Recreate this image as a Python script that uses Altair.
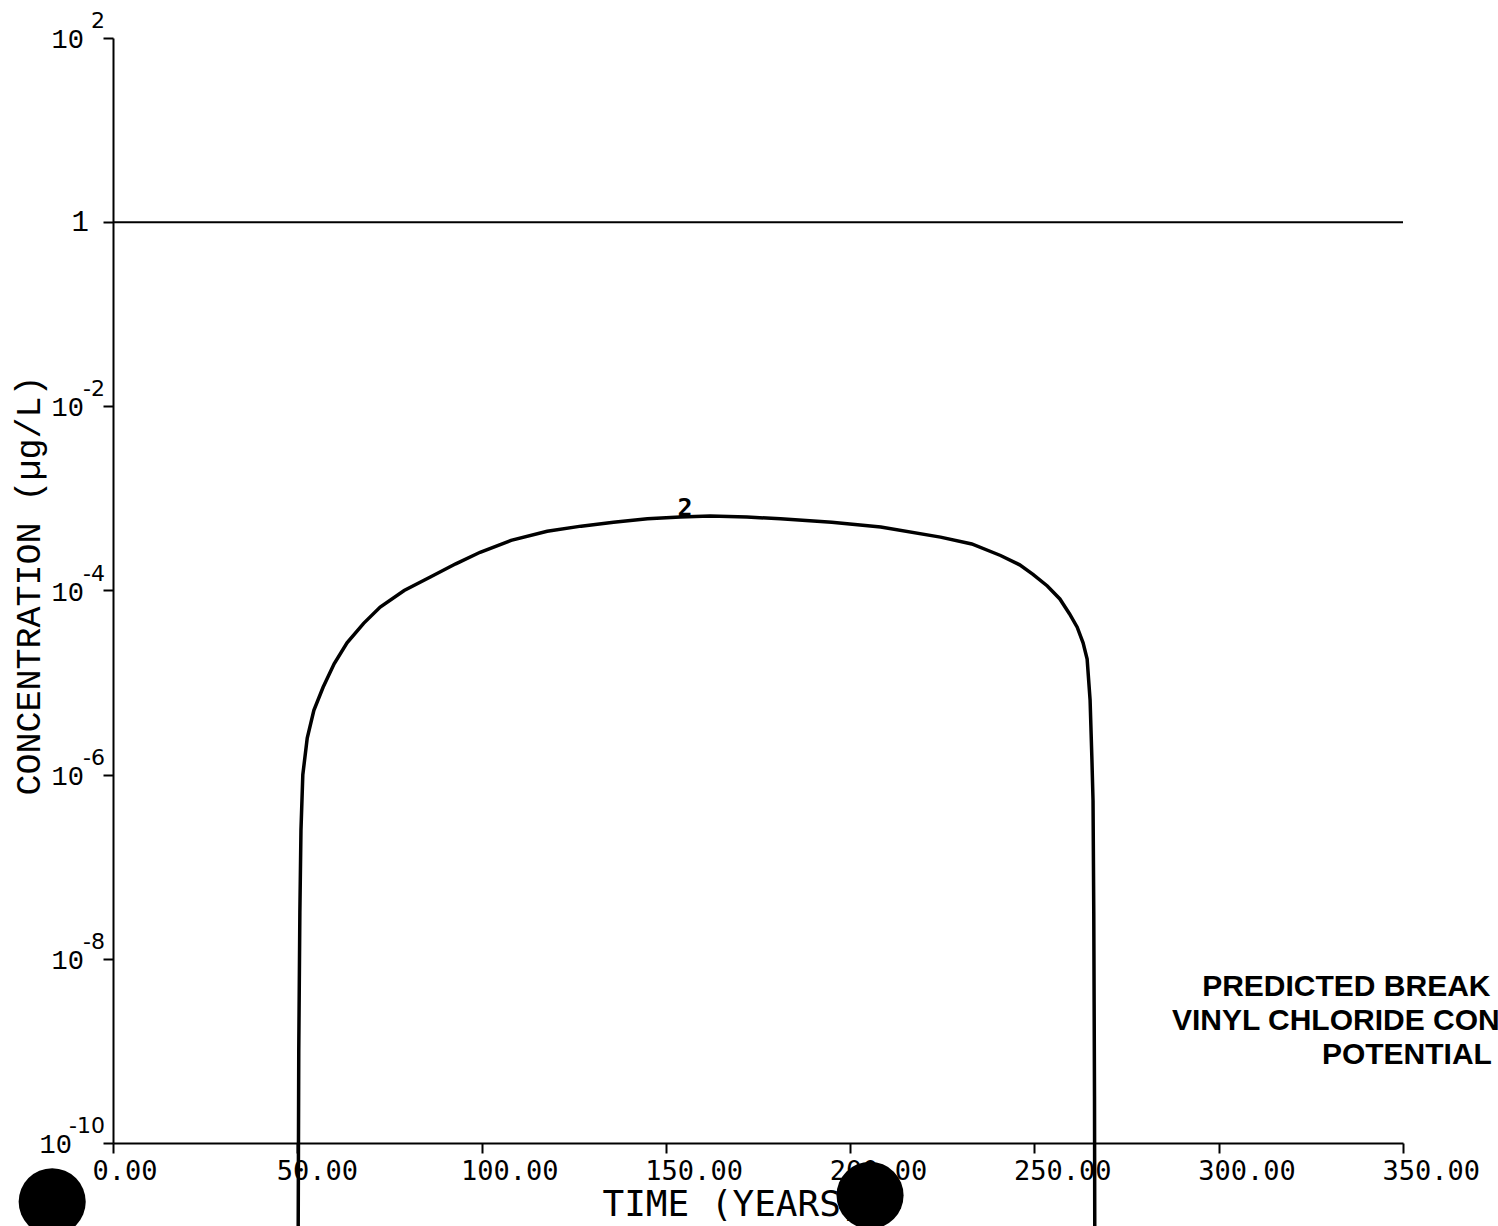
import altair as alt
import pandas as pd

# Breakthrough curve: time (years) vs concentration (ug/L)
years = [50.2, 50.4, 50.7, 51.0, 51.5, 52.7, 54.5, 57.0, 60.0, 63.5, 68.0, 72.5,
         79.0, 86.1, 93.0, 99.6, 108.0, 117.8, 127.0, 135.8, 145.0, 153.9, 162.0,
         172.0, 181.1, 195.0, 208.3, 224.5, 233.0, 240.8, 246.0, 249.6, 253.5,
         256.9, 259.5, 261.6, 263.2, 264.3, 265.1, 265.6, 265.9, 266.1, 266.3, 266.4]
concentration = [3.2e-12, 1.0e-9, 3.2e-8, 2.5e-7, 1.0e-6, 2.5e-6, 5.0e-6, 8.9e-6,
                 1.6e-5, 2.7e-5, 4.4e-5, 6.6e-5, 1.0e-4, 1.4e-4, 1.95e-4, 2.6e-4,
                 3.5e-4, 4.4e-4, 5.0e-4, 5.5e-4, 6.0e-4, 6.3e-4, 6.45e-4, 6.3e-4,
                 6.0e-4, 5.5e-4, 4.9e-4, 3.8e-4, 3.2e-4, 2.4e-4, 1.9e-4, 1.5e-4,
                 1.12e-4, 8.1e-5, 5.6e-5, 4.0e-5, 2.7e-5, 1.8e-5, 6.5e-6, 1.45e-6,
                 5.2e-7, 3.2e-8, 3.2e-10, 3.2e-12]

# Reference level drawn across the whole time range
reference_level = 1.0
time_range = [0, 350]

# Curve label
curve_label = "2"
curve_label_year = 155.2
curve_label_conc = 6.3e-4

# Decade ticks on the concentration axis
tick_exponents = [2, 0, -2, -4, -6, -8, -10]
x_ticks = [0, 50, 100, 150, 200, 250, 300, 350]

# Caption lines (left edge in years, vertical position in ug/L)
caption_lines = ["PREDICTED BREAK", "VINYL CHLORIDE CON", "POTENTIAL"]
caption_x = [295.5, 287.3, 328.0]
caption_y = [4.9e-9, 2.1e-9, 9.0e-10]

# Binder punch holes
hole_x = [-16.5, 205.4]
hole_y = [2.3e-11, 2.7e-11]

curve_df = pd.DataFrame({"year": years, "conc": concentration})
ref_df = pd.DataFrame({"x0": [time_range[0]], "x1": [time_range[1]], "y": [reference_level]})
label_df = pd.DataFrame({"year": [curve_label_year], "conc": [curve_label_conc], "txt": [curve_label]})
ticks_df = pd.DataFrame({
    "exp": tick_exponents,
    "value": [10.0 ** e for e in tick_exponents],
    "base": ["1" if e == 0 else "10" for e in tick_exponents],
    "sup": ["" if e == 0 else str(e) for e in tick_exponents],
})
caption_df = pd.DataFrame({"x": caption_x, "y": caption_y, "txt": caption_lines})
holes_df = pd.DataFrame({"x": hole_x, "y": hole_y})

x_scale = alt.Scale(domain=time_range, nice=False, zero=False)
y_scale = alt.Scale(type="log", domain=[1e-10, 1e2], nice=False)

x_axis = alt.Axis(
    values=x_ticks, format=".2f", title="TIME (YEARS)",
    grid=False, domainColor="black", domainWidth=2,
    tickColor="black", tickWidth=2, tickSize=10,
    labelFont="DejaVu Sans Mono", labelFontSize=27, labelColor="black",
    labelAlign="left", labelBaseline="top", labelOffset=-21, labelPadding=5,
    labelFlush=False, labelOverlap=False,
    titleFont="DejaVu Sans Mono", titleFontSize=36, titleFontWeight="normal",
    titleColor="black", titleX=619, titleY=72, titleAlign="center",
    titleBaseline="alphabetic",
)
y_axis = alt.Axis(
    values=[10.0 ** e for e in tick_exponents], labels=False,
    title="CONCENTRATION (µg/L)", grid=False, domainColor="black", domainWidth=2,
    tickColor="black", tickWidth=2, tickSize=10,
    titleFont="Liberation Mono", titleFontSize=35, titleFontWeight="normal",
    titleColor="black", titleX=-85, titleY=547, titleAngle=270,
    titleAlign="center", titleBaseline="middle",
)

curve = alt.Chart(curve_df).mark_line(
    color="black", strokeWidth=3.5, clip=False
).encode(
    x=alt.X("year:Q", scale=x_scale, axis=x_axis),
    y=alt.Y("conc:Q", scale=y_scale, axis=y_axis),
    order="year:Q",
)

ref_line = alt.Chart(ref_df).mark_rule(color="black", strokeWidth=2).encode(
    x="x0:Q", x2="x1:Q", y="y:Q"
)

curve_tag = alt.Chart(label_df).mark_text(
    font="DejaVu Sans Mono", fontWeight="bold", fontSize=25, color="black",
    align="center", baseline="alphabetic", dy=-1
).encode(x="year:Q", y="conc:Q", text="txt:N")

tick_base = alt.Chart(ticks_df).transform_filter("datum.exp != 0 && datum.exp != -10").mark_text(
    font="Liberation Mono", fontSize=27, color="black", align="right",
    baseline="middle", dx=-29, dy=2
).encode(x=alt.value(0), y="value:Q", text="base:N")

tick_one = alt.Chart(ticks_df).transform_filter("datum.exp == 0").mark_text(
    font="Liberation Mono", fontSize=29, color="black", align="right",
    baseline="middle", dx=-24, dy=0
).encode(x=alt.value(0), y="value:Q", text="base:N")

tick_low = alt.Chart(ticks_df).transform_filter("datum.exp == -10").mark_text(
    font="Liberation Mono", fontSize=27, color="black", align="right",
    baseline="middle", dx=-41, dy=2
).encode(x=alt.value(0), y="value:Q", text="base:N")

tick_sup = alt.Chart(ticks_df).transform_filter("datum.exp != 0").mark_text(
    font="DejaVu Sans", fontSize=22, color="black", align="right",
    baseline="middle", dx=-8, dy=-17
).encode(x=alt.value(0), y="value:Q", text="sup:N")

caption = alt.Chart(caption_df).mark_text(
    font="Liberation Sans", fontWeight="bold", fontSize=30, color="black",
    align="left", baseline="middle", clip=False
).encode(x="x:Q", y="y:Q", text="txt:N")

holes = alt.Chart(holes_df).mark_point(
    shape="circle", filled=True, color="black", opacity=1, size=4500, clip=False
).encode(x="x:Q", y="y:Q")

chart = alt.layer(
    curve, ref_line, curve_tag, tick_base, tick_one, tick_low, tick_sup, caption, holes
).properties(
    width=1290,
    height=1105,
    autosize=alt.AutoSizeParams(type="none"),
    padding={"left": 113, "top": 38, "right": 95, "bottom": 83},
    background="white",
).configure_view(stroke=None)

chart.save("out.html", embed_options={"renderer": "svg", "actions": False})
